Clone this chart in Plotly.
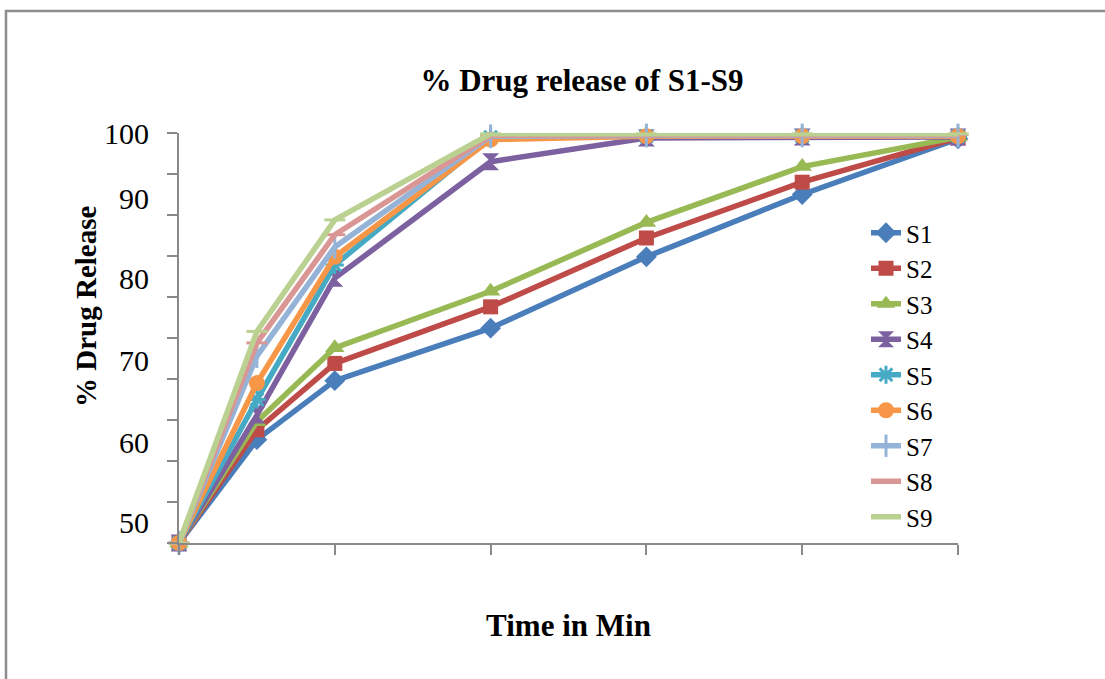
import plotly.graph_objects as go

# ---- data ----
time_min = [0, 15, 30, 60, 90, 120, 150]
series_names = ["S1", "S2", "S3", "S4", "S5", "S6", "S7", "S8", "S9"]
s1 = [50, 62.6, 69.8, 76.2, 84.9, 92.5, 99.3]
s2 = [50, 63.8, 71.9, 78.8, 87.2, 94.0, 99.4]
s3 = [50, 64.8, 73.8, 80.7, 89.1, 95.9, 99.5]
s4 = [50, 65.6, 82.3, 96.5, 99.4, 99.5, 99.5]
s5 = [50, 67.5, 83.9, 99.5, 99.6, 99.6, 99.6]
s6 = [50, 69.5, 84.9, 99.2, 99.6, 99.6, 99.6]
s7 = [50, 72.8, 86.1, 99.6, 99.7, 99.7, 99.7]
s8 = [50, 74.4, 87.6, 99.7, 99.8, 99.8, 99.8]
s9 = [50, 75.8, 89.4, 99.9, 99.9, 99.9, 99.9]
all_series = [s1, s2, s3, s4, s5, s6, s7, s8, s9]

y_minor_ticks = [50, 55, 60, 65, 70, 75, 80, 85, 90, 95, 100]
y_label_pos = [52.45, 62.3, 72.3, 82.3, 92.05, 99.999]
y_label_text = ["50", "60", "70", "80", "90", "100"]

# ---- styles ----
colors = ["#4A7EBB", "#BE4B48", "#98B954", "#7D60A0", "#46AAC5",
          "#F79646", "#95B3D7", "#D99694", "#BBD191"]
symbols = ["diamond", "square", "triangle-up", "hourglass", "asterisk-open",
           "circle", "line-ns-open", "line-ew-open", "line-ew-open"]
sizes = [16, 15, 17, 17, 15, 16, 17, 15, 15]

SERIF = "Liberation Serif, Times New Roman, serif"
AX = "#898989"

fig = go.Figure()
for name, ys, c, sym, sz in zip(series_names, all_series, colors, symbols, sizes):
    open_sym = sym.endswith("-open")
    fig.add_trace(go.Scatter(
        x=time_min, y=ys, name=name, mode="lines+markers",
        line=dict(color=c, width=5.5),
        marker=dict(symbol=sym, size=sz, color=c,
                    line=dict(color=c, width=3 if open_sym else 0)),
        cliponaxis=False,
    ))

L, R, T, B = 179, 147, 133, 136
W, H = 1105, 679
pw, ph = W - L - R, H - T - B

def px2paper_x(px):
    return (px - L) / pw

def px2paper_y(py):
    return (H - B - py) / ph

fig.update_layout(
    width=W, height=H,
    margin=dict(l=L, r=R, t=T, b=B, pad=0),
    paper_bgcolor="white", plot_bgcolor="white",
    font=dict(family=SERIF, color="black"),
    title=dict(text="<b>% Drug release of S1-S9</b>", font=dict(size=31, family=SERIF),
               x=582 / W, xref="container", xanchor="center",
               y=1 - 80 / H, yref="container", yanchor="middle"),
    xaxis=dict(range=[0, 150], tickmode="linear", tick0=0, dtick=30,
               showticklabels=False, ticks="outside", ticklen=10, tickwidth=2,
               tickcolor=AX, showline=True, linecolor=AX, linewidth=2,
               showgrid=False, zeroline=False,
               title=dict(text="<b>Time in Min</b>", font=dict(size=31, family=SERIF),
                          standoff=60)),
    yaxis=dict(range=[50, 100], tickmode="array", tickvals=y_label_pos,
               ticktext=y_label_text, ticks="", tickfont=dict(size=30, family=SERIF),
               ticklabelstandoff=22,
               minor=dict(tickmode="array", tickvals=y_minor_ticks, ticks="outside",
                          ticklen=10, tickwidth=2, tickcolor=AX, showgrid=False),
               showline=True, linecolor=AX, linewidth=2,
               showgrid=False, zeroline=False),
    legend=dict(x=px2paper_x(866), y=px2paper_y(210), xanchor="left", yanchor="top",
                font=dict(size=25, family=SERIF), bgcolor="rgba(0,0,0,0)",
                borderwidth=0),
    showlegend=True,
)

# y axis title placed where the reference shows it
fig.add_annotation(text="<b>% Drug Release</b>", textangle=-90,
                   x=px2paper_x(86), y=px2paper_y(307), xref="paper", yref="paper",
                   showarrow=False, font=dict(size=29, family=SERIF),
                   xanchor="center", yanchor="middle")

# outer chart frame (top and left edges visible in the picture)
fx0, fy0 = px2paper_x(6), px2paper_y(11)
fx1, fy1 = px2paper_x(1140), px2paper_y(720)
fig.add_shape(type="path", xref="paper", yref="paper", layer="below",
              path=f"M {fx1} {fy0} L {fx0} {fy0} L {fx0} {fy1}",
              line=dict(color="#8C8C8C", width=2.5))

fig.write_html("out.html", config={"displayModeBar": False})
